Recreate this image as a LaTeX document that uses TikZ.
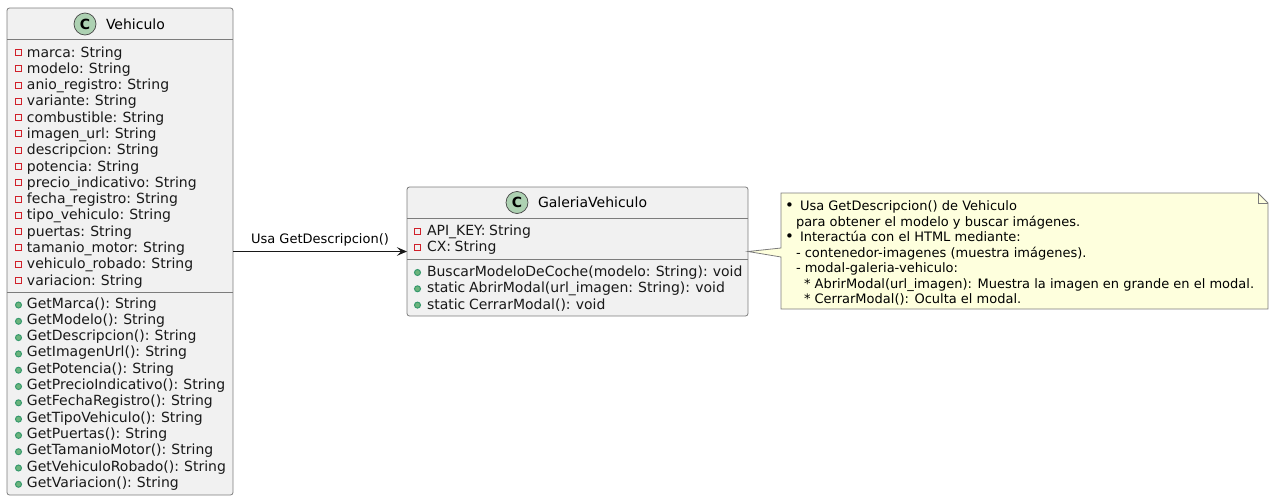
\documentclass[tikz,border=0pt]{standalone}
\usepackage{fontspec}
\setmainfont{DejaVu Sans}
\newfontfamily\filafont[WordSpace=0.81]{DejaVu Sans}
\usetikzlibrary{arrows.meta}
\definecolor{fondo}{HTML}{F1F1F1}
\definecolor{trazo}{HTML}{181818}
\definecolor{gris}{HTML}{7C7C7C}
\definecolor{circulo}{HTML}{ADD1B2}
\definecolor{rojo}{HTML}{D0202A}
\definecolor{verde}{HTML}{6CB47C}
\definecolor{verdeosc}{HTML}{038048}
\definecolor{amarillo}{HTML}{FEFFDD}

\begin{document}
\begin{tikzpicture}
  [x=1pt, y=-1pt,
  every node/.style={inner sep=0pt, outer sep=0pt}]
  \tikzset{
    clase/.style={
      rectangle, rounded corners=2.5pt,
      draw=gris, line width=0.8pt, fill=fondo,
      anchor=north west,
    },
    separador/.style={draw=gris, line width=0.8pt},
    icono/.style={
      circle, draw=trazo!80, line width=0.7pt, fill=circulo,
      minimum size=22pt,
      font=\fontsize{14}{14}\selectfont\bfseries,
    },
    titulo/.style={
      anchor=west,
      font=\fontsize{14}{14}\selectfont,
    },
    fila/.style={
      anchor=base west,
      text=black!90,
      font=\filafont\fontsize{14}{14}\selectfont,
    },
    privado/.style={
      rectangle, draw=rojo, line width=1pt,
      minimum size=6pt,
    },
    publico/.style={
      circle, draw=verdeosc!80, line width=1pt, fill=verde,
      minimum size=6pt,
    },
    nota/.style={
      anchor=base west,
      font=\fontsize{13}{13}\selectfont,
    },
    vineta/.style={
      anchor=base west,
      font=\fontsize{15}{15}\selectfont,
    },
    usa/.style={-{Stealth[length=10pt, width=8.5pt, inset=4pt]}, draw=trazo, line width=1pt},
  }
  \useasboundingbox (0,0) rectangle (1274,501);

  % clase Vehiculo
  \node[clase, minimum width=226pt, minimum height=487pt] (vehiculo) at (7,8) {};
  \node[icono] (vehiculoC) at (85,24) {C};
  \node[titulo] (vehiculoT) at (106,24) {Vehiculo};
  \draw[separador] (vehiculo.west |- 0,39) -- (vehiculo.east |- 0,39);
  \draw[separador] (vehiculo.west |- 0,292) -- (vehiculo.east |- 0,292);

  \foreach \texto [count=\i] in {marca: String, modelo: String, anio\_registro: String,
    variante: String, combustible: String, imagen\_url: String, descripcion: String,
    potencia: String, precio\_indicativo: String, fecha\_registro: String,
    tipo\_vehiculo: String, puertas: String, tamanio\_motor: String,
    vehiculo\_robado: String, variacion: String}
  {
    \node[privado] (va\i) at (18.5,{52.5+(\i-1)*16.29}) {};
    \node[fila] (vat\i) at (27,{57+(\i-1)*16.29}) {\texto};
  }
  \foreach \texto [count=\i] in {GetMarca(): String, GetModelo(): String, GetDescripcion(): String,
    GetImagenUrl(): String, GetPotencia(): String, GetPrecioIndicativo(): String,
    GetFechaRegistro(): String, GetTipoVehiculo(): String, GetPuertas(): String,
    GetTamanioMotor(): String, GetVehiculoRobado(): String, GetVariacion(): String}
  {
    \node[publico] (vm\i) at (18.5,{305+(\i-1)*16.3}) {};
    \node[fila] (vmt\i) at (27,{308+(\i-1)*16.3}) {\texto};
  }

  % clase GaleriaVehiculo
  \node[clase, minimum width=341pt, minimum height=129pt] (galeria) at (407,187) {};
  \node[icono] (galeriaC) at (517,202.5) {C};
  \node[titulo] (galeriaT) at (538,202.5) {GaleriaVehiculo};
  \draw[separador] (galeria.west |- 0,218) -- (galeria.east |- 0,218);
  \draw[separador] (galeria.west |- 0,259) -- (galeria.east |- 0,259);

  \foreach \texto [count=\i] in {API\_KEY: String, CX: String}
  {
    \node[privado] (ga\i) at (417.5,{231+(\i-1)*16.3}) {};
    \node[fila] (gat\i) at (427,{235+(\i-1)*16.3}) {\texto};
  }
  \foreach \texto [count=\i] in {BuscarModeloDeCoche(modelo: String): void,
    static AbrirModal(url\_imagen: String): void, static CerrarModal(): void}
  {
    \node[publico] (gm\i) at (417.5,{272.5+(\i-1)*16.3}) {};
    \node[fila] (gmt\i) at (427,{276.5+(\i-1)*16.3}) {\texto};
  }

  \draw[usa] (vehiculo) -- node[above=5pt, font=\fontsize{13}{13}\selectfont] (usaT) {Usa GetDescripcion()} (galeria);

  % nota
  \coordinate (notaNO) at (781,193);
  \coordinate (notaSE) at (1268,309);
  \draw[separador, fill=amarillo]
    (notaNO) -- (1258,193) -- (1268,203) -- (notaSE) -- (781,309)
    -- (781,257) -- (galeria.east) -- (781,248) -- cycle;
  \draw[separador] (1258,193) -- (1258,203) -- (1268,203);

  \node[vineta] (b1) at (785,210.5) {•};
  \node[nota] (n1) at (800,210.5) {Usa GetDescripcion() de Vehiculo};
  \node[nota] (n2) at (796,226) {para obtener el modelo y buscar imágenes.};
  \node[vineta] (b2) at (785,241.5) {•};
  \node[nota] (n3) at (800,241.5) {Interactúa con el HTML mediante:};
  \node[nota] (n4) at (796,257) {- contenedor-imagenes (muestra imágenes).};
  \node[nota] (n5) at (796,272.5) {- modal-galeria-vehiculo:};
  \node[nota] (n6) at (804,288) {* AbrirModal(url\_imagen): Muestra la imagen en grande en el modal.};
  \node[nota] (n7) at (804,303.5) {* CerrarModal(): Oculta el modal.};
\end{tikzpicture}
\end{document}
